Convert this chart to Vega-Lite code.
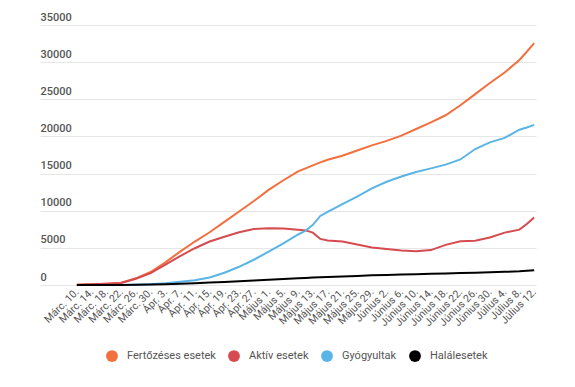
{
  "$schema": "https://vega.github.io/schema/vega-lite/v6.json",
  "width": 496,
  "height": 260,
  "autosize": "none",
  "padding": {"left": 40, "top": 25, "right": 39, "bottom": 102},
  "background": "white",
  "config": {
    "view": {"stroke": null},
    "font": "Roboto"
  },
  "data": {
    "values": [
      {"date": "2020-03-10", "Fertőzéses esetek": 30, "Aktív esetek": 30, "Gyógyultak": 0, "Halálesetek": 0},
      {"date": "2020-03-14", "Fertőzéses esetek": 100, "Aktív esetek": 95, "Gyógyultak": 0, "Halálesetek": 3},
      {"date": "2020-03-18", "Fertőzéses esetek": 180, "Aktív esetek": 170, "Gyógyultak": 5, "Halálesetek": 8},
      {"date": "2020-03-22", "Fertőzéses esetek": 300, "Aktív esetek": 280, "Gyógyultak": 10, "Halálesetek": 15},
      {"date": "2020-03-26", "Fertőzéses esetek": 900, "Aktív esetek": 850, "Gyógyultak": 30, "Halálesetek": 25},
      {"date": "2020-03-30", "Fertőzéses esetek": 1750, "Aktív esetek": 1600, "Gyógyultak": 90, "Halálesetek": 60},
      {"date": "2020-04-03", "Fertőzéses esetek": 3050, "Aktív esetek": 2750, "Gyógyultak": 220, "Halálesetek": 100},
      {"date": "2020-04-07", "Fertőzéses esetek": 4500, "Aktív esetek": 3900, "Gyógyultak": 450, "Halálesetek": 170},
      {"date": "2020-04-11", "Fertőzéses esetek": 5850, "Aktív esetek": 4950, "Gyógyultak": 650, "Halálesetek": 250},
      {"date": "2020-04-15", "Fertőzéses esetek": 7100, "Aktív esetek": 5850, "Gyógyultak": 1000, "Halálesetek": 320},
      {"date": "2020-04-19", "Fertőzéses esetek": 8500, "Aktív esetek": 6500, "Gyógyultak": 1650, "Halálesetek": 400},
      {"date": "2020-04-23", "Fertőzéses esetek": 9900, "Aktív esetek": 7100, "Gyógyultak": 2450, "Halálesetek": 500},
      {"date": "2020-04-27", "Fertőzéses esetek": 11300, "Aktív esetek": 7550, "Gyógyultak": 3400, "Halálesetek": 600},
      {"date": "2020-05-01", "Fertőzéses esetek": 12800, "Aktív esetek": 7650, "Gyógyultak": 4500, "Halálesetek": 700},
      {"date": "2020-05-05", "Fertőzéses esetek": 14100, "Aktív esetek": 7600, "Gyógyultak": 5600, "Halálesetek": 800},
      {"date": "2020-05-09", "Fertőzéses esetek": 15300, "Aktív esetek": 7450, "Gyógyultak": 6800, "Halálesetek": 900},
      {"date": "2020-05-11", "Fertőzéses esetek": 15700, "Aktív esetek": 7350, "Gyógyultak": 7300, "Halálesetek": 950},
      {"date": "2020-05-13", "Fertőzéses esetek": 16100, "Aktív esetek": 7050, "Gyógyultak": 8100, "Halálesetek": 1000},
      {"date": "2020-05-15", "Fertőzéses esetek": 16500, "Aktív esetek": 6200, "Gyógyultak": 9300, "Halálesetek": 1030},
      {"date": "2020-05-17", "Fertőzéses esetek": 16850, "Aktív esetek": 6000, "Gyógyultak": 9850, "Halálesetek": 1070},
      {"date": "2020-05-21", "Fertőzéses esetek": 17400, "Aktív esetek": 5850, "Gyógyultak": 10900, "Halálesetek": 1150},
      {"date": "2020-05-25", "Fertőzéses esetek": 18100, "Aktív esetek": 5450, "Gyógyultak": 11900, "Halálesetek": 1220},
      {"date": "2020-05-29", "Fertőzéses esetek": 18800, "Aktív esetek": 5050, "Gyógyultak": 13000, "Halálesetek": 1300},
      {"date": "2020-06-02", "Fertőzéses esetek": 19400, "Aktív esetek": 4850, "Gyógyultak": 13900, "Halálesetek": 1350},
      {"date": "2020-06-06", "Fertőzéses esetek": 20100, "Aktív esetek": 4650, "Gyógyultak": 14600, "Halálesetek": 1400},
      {"date": "2020-06-10", "Fertőzéses esetek": 21000, "Aktív esetek": 4550, "Gyógyultak": 15200, "Halálesetek": 1450},
      {"date": "2020-06-14", "Fertőzéses esetek": 21900, "Aktív esetek": 4700, "Gyógyultak": 15700, "Halálesetek": 1500},
      {"date": "2020-06-18", "Fertőzéses esetek": 22850, "Aktív esetek": 5400, "Gyógyultak": 16200, "Halálesetek": 1550},
      {"date": "2020-06-22", "Fertőzéses esetek": 24200, "Aktív esetek": 5900, "Gyógyultak": 16900, "Halálesetek": 1600},
      {"date": "2020-06-26", "Fertőzéses esetek": 25700, "Aktív esetek": 5950, "Gyógyultak": 18300, "Halálesetek": 1650},
      {"date": "2020-06-30", "Fertőzéses esetek": 27200, "Aktív esetek": 6400, "Gyógyultak": 19200, "Halálesetek": 1700},
      {"date": "2020-07-04", "Fertőzéses esetek": 28600, "Aktív esetek": 7050, "Gyógyultak": 19800, "Halálesetek": 1770},
      {"date": "2020-07-08", "Fertőzéses esetek": 30300, "Aktív esetek": 7450, "Gyógyultak": 20900, "Halálesetek": 1850},
      {"date": "2020-07-10", "Fertőzéses esetek": 31400, "Aktív esetek": 8200, "Gyógyultak": 21200, "Halálesetek": 1920},
      {"date": "2020-07-12", "Fertőzéses esetek": 32550, "Aktív esetek": 9100, "Gyógyultak": 21550, "Halálesetek": 2000}
    ]
  },
  "transform": [
    {"fold": ["Fertőzéses esetek", "Aktív esetek", "Gyógyultak", "Halálesetek"], "as": ["sorozat", "ertek"]}
  ],
  "mark": {"type": "line", "strokeWidth": 2, "interpolate": "linear"},
  "encoding": {
    "x": {
      "field": "date",
      "type": "temporal",
      "scale": {
        "type": "utc",
        "domain": [
          {"year": 2020, "month": 2, "date": 29, "utc": true},
          {"year": 2020, "month": 7, "date": 12, "hours": 12, "utc": true}
        ]
      },
      "axis": {
        "title": null,
        "domain": false,
        "ticks": false,
        "grid": false,
        "labelAngle": -45,
        "labelAlign": "right",
        "labelBaseline": "middle",
        "labelPadding": 5,
        "labelFontSize": 10.5,
        "labelColor": "#555555",
        "labelOverlap": false,
        "labelFlush": false,
        "values": [
          {"year": 2020, "month": 3, "date": 10, "utc": true},
          {"year": 2020, "month": 3, "date": 14, "utc": true},
          {"year": 2020, "month": 3, "date": 18, "utc": true},
          {"year": 2020, "month": 3, "date": 22, "utc": true},
          {"year": 2020, "month": 3, "date": 26, "utc": true},
          {"year": 2020, "month": 3, "date": 30, "utc": true},
          {"year": 2020, "month": 4, "date": 3, "utc": true},
          {"year": 2020, "month": 4, "date": 7, "utc": true},
          {"year": 2020, "month": 4, "date": 11, "utc": true},
          {"year": 2020, "month": 4, "date": 15, "utc": true},
          {"year": 2020, "month": 4, "date": 19, "utc": true},
          {"year": 2020, "month": 4, "date": 23, "utc": true},
          {"year": 2020, "month": 4, "date": 27, "utc": true},
          {"year": 2020, "month": 5, "date": 1, "utc": true},
          {"year": 2020, "month": 5, "date": 5, "utc": true},
          {"year": 2020, "month": 5, "date": 9, "utc": true},
          {"year": 2020, "month": 5, "date": 13, "utc": true},
          {"year": 2020, "month": 5, "date": 17, "utc": true},
          {"year": 2020, "month": 5, "date": 21, "utc": true},
          {"year": 2020, "month": 5, "date": 25, "utc": true},
          {"year": 2020, "month": 5, "date": 29, "utc": true},
          {"year": 2020, "month": 6, "date": 2, "utc": true},
          {"year": 2020, "month": 6, "date": 6, "utc": true},
          {"year": 2020, "month": 6, "date": 10, "utc": true},
          {"year": 2020, "month": 6, "date": 14, "utc": true},
          {"year": 2020, "month": 6, "date": 18, "utc": true},
          {"year": 2020, "month": 6, "date": 22, "utc": true},
          {"year": 2020, "month": 6, "date": 26, "utc": true},
          {"year": 2020, "month": 6, "date": 30, "utc": true},
          {"year": 2020, "month": 7, "date": 4, "utc": true},
          {"year": 2020, "month": 7, "date": 8, "utc": true},
          {"year": 2020, "month": 7, "date": 12, "utc": true}
        ],
        "labelExpr": "['Jan.','Febr.','Márc.','Ápr.','Május','Június','Július'][utcmonth(datum.value)] + ' ' + utcdate(datum.value) + '.'"
      }
    },
    "y": {
      "field": "ertek",
      "type": "quantitative",
      "scale": {"domain": [0, 35000], "nice": false},
      "axis": {
        "title": null,
        "domain": false,
        "ticks": false,
        "tickSize": 0,
        "values": [0, 5000, 10000, 15000, 20000, 25000, 30000, 35000],
        "format": "d",
        "labelAlign": "left",
        "labelBaseline": "bottom",
        "labelPadding": 0,
        "labelOffset": -3,
        "labelFontSize": 11,
        "labelColor": "#555555",
        "labelFontWeight": 500,
        "gridColor": "#e6e6e6",
        "gridWidth": 1
      }
    },
    "color": {
      "field": "sorozat",
      "type": "nominal",
      "scale": {
        "domain": ["Fertőzéses esetek", "Aktív esetek", "Gyógyultak", "Halálesetek"],
        "range": ["#f26f3e", "#d54b50", "#5ab4e5", "#000000"]
      },
      "legend": {
        "title": null,
        "orient": "none",
        "direction": "horizontal",
        "legendX": 66,
        "legendY": 325,
        "symbolType": "circle",
        "symbolSize": 140,
        "symbolStrokeWidth": 0,
        "symbolOpacity": 1,
        "labelFontSize": 11,
        "labelColor": "#555555",
        "labelOffset": 9,
        "columnPadding": 12,
        "encode": {
          "symbols": {
            "update": {
              "fill": {"scale": "color", "field": "value"},
              "fillOpacity": {"value": 1}
            }
          }
        }
      }
    }
  }
}
